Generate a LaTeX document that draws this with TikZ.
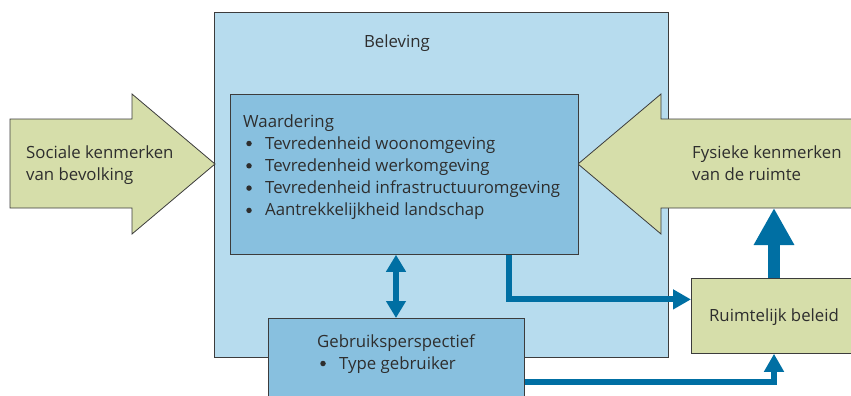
\documentclass[tikz,border=0pt]{standalone}
\usepackage{fontspec}
\setmainfont{Open Sans}
\usetikzlibrary{arrows.meta,calc}
\definecolor{outerblue}{HTML}{B7DCEE}
\definecolor{innerblue}{HTML}{88C0DF}
\definecolor{greenfill}{HTML}{D6DEAA}
\definecolor{arrowblue}{HTML}{006FA3}
\definecolor{edge}{HTML}{3C3C3C}
\definecolor{txt}{HTML}{2E2E2E}
\tikzset{
  boxstyle/.style={draw=edge, line width=0.8pt, inner sep=0pt, anchor=north west},
  bigarrow/.style={draw=edge, line width=0.8pt, fill=greenfill},
  label/.style={text=txt, font=\fontsize{16.8}{22}\selectfont, inner sep=0pt},
  bulletdot/.style={circle, fill=txt, minimum size=5.5pt, inner sep=0pt},
  conn/.style={draw=arrowblue, line width=6pt},
  tipA/.style={-{Triangle[length=18pt,width=19pt]}},
}
\begin{document}
\begin{tikzpicture}[x=1pt,y=-1pt]
\useasboundingbox (0,0) rectangle (851,396);
% outer box
\node[boxstyle, fill=outerblue, minimum width=454pt, minimum height=345pt] (bel) at (214,12) {};
\node[label, anchor=base] (beltxt) at (397,48) {Beleving};
% left arrow
\draw[bigarrow] (10,119) -- (132,119) -- (132,94) -- (215,164) -- (132,234) -- (132,208) -- (10,208) -- cycle;
\node[label, anchor=base west, align=left] (soc) at (26,180) {Sociale kenmerken\\van bevolking};
% right arrow
\draw[bigarrow] (856,119) -- (661,119) -- (661,94) -- (578,164) -- (661,234) -- (661,208) -- (856,208) -- cycle;
\node[label, anchor=base west, align=left] (fys) at (692,180) {Fysieke kenmerken\\van de ruimte};
\coordinate (fysbot) at (774,208);
% waardering
\node[boxstyle, fill=innerblue, minimum width=348pt, minimum height=160pt] (wrd) at (230,94) {};
\node[label, anchor=base west] (wrdtitle) at (243,127) {Waardering};
\foreach \i/\t in {0/Tevredenheid woonomgeving,1/Tevredenheid werkomgeving,2/Tevredenheid infrastructuuromgeving,3/Aantrekkelijkheid landschap}{
  \node[label, anchor=base west] (w\i) at (265,149+22.3*\i) {\t};
  \node[bulletdot] (wb\i) at (249,143.5+22.3*\i) {};
}
% gebruik
\node[boxstyle, fill=innerblue, minimum width=256pt, minimum height=90pt] (geb) at (268,318) {};
\node[label, anchor=base] (gebtitle) at (396,347) {Gebruiksperspectief};
\node[label, anchor=base west] (gebitem) at (339,369) {Type gebruiker};
\node[bulletdot] (gebbul) at (323,363.5) {};
% ruimtelijk beleid
\node[boxstyle, fill=greenfill, minimum width=164pt, minimum height=75pt] (rb) at (691,278) {};
\node[label, anchor=base] (rbtxt) at (774,321) {Ruimtelijk beleid};
% connectors
\draw[conn, {Triangle[length=17pt,width=19pt]}-{Triangle[length=17pt,width=19pt]}] (wrd.south -| 396,0) -- (geb.north -| 396,0);
\draw[conn, tipA, line join=miter] ([xshift=-70pt]wrd.south east) |- ([yshift=16.5pt]rb.west);
\draw[conn, tipA, line join=miter] ([yshift=-64pt]geb.north east) -| (rb.south -| 774,0);
\draw[draw=arrowblue, line width=12pt, -{Triangle[length=37pt,width=38pt]}] (rb.north -| 774,0) -- (fysbot);
\end{tikzpicture}
\end{document}
